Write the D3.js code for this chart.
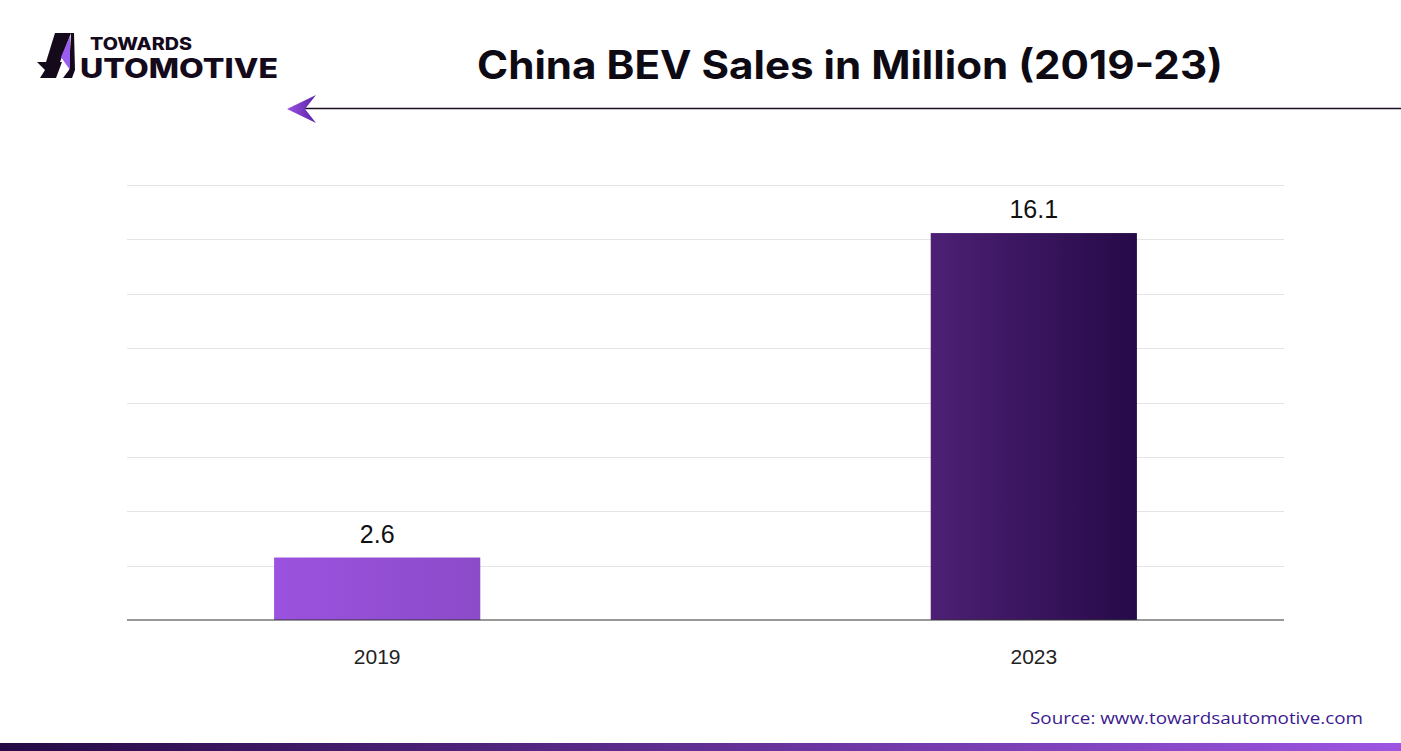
<!DOCTYPE html>
<html><head><meta charset="utf-8">
<script src="https://cdn.jsdelivr.net/npm/d3@7/dist/d3.min.js"></script>
<style>html,body{margin:0;padding:0;background:#fff;overflow:hidden}</style>
</head><body>
<script>
const categories = ["2019", "2023"];
const values = [2.6, 16.1];
const valueLabels = ["2.6", "16.1"];
const gridTicks = [0, 2.25, 4.5, 6.75, 9, 11.25, 13.5, 15.75, 18];
const titleText = "China BEV Sales in Million (2019-23)";
const sourceText = "Source: www.towardsautomotive.com";

const W = 1401, H = 751;
const svg = d3.select("body").append("svg").attr("width", W).attr("height", H);
const defs = svg.append("defs");

function lin(id, stops) {
  const g = defs.append("linearGradient").attr("id", id).attr("x1", "0").attr("x2", "1").attr("y1", "0").attr("y2", "0");
  stops.forEach(([o, c]) => g.append("stop").attr("offset", o).attr("stop-color", c));
}
lin("g2019", [[0, "#9b52df"], [1, "#8c4bc9"]]);
lin("g2023", [[0, "#4d2075"], [1, "#260a48"]]);
lin("gbottom", [[0, "#250a45"], [1, "#9d55e2"]]);
lin("garrow", [[0, "#9a52e0"], [1, "#5a23a8"]]);

const x = d3.scaleBand().domain(categories).range([127, 1284]).paddingInner(0.686).paddingOuter(0.224);
const y = d3.scaleLinear().domain([0, 18.1]).range([620, 185]);
const gy = d3.scaleLinear().domain([0, 18]).range([620, 185]);

// gridlines
svg.append("g").selectAll("line").data(gridTicks.slice(1)).join("line")
  .attr("x1", 127).attr("x2", 1284)
  .attr("y1", d => Math.round(gy(d)) + 0.5).attr("y2", d => Math.round(gy(d)) + 0.5)
  .attr("stroke", "#e4e4e4").attr("stroke-width", 1);

// bars
svg.append("g").selectAll("rect").data(values).join("rect")
  .attr("x", (d, i) => x(categories[i]))
  .attr("width", x.bandwidth())
  .attr("y", d => y(d))
  .attr("height", d => y(0) - y(d))
  .attr("fill", (d, i) => `url(#g${categories[i]})`);

// value labels
svg.append("g").selectAll("text").data(values).join("text")
  .attr("x", (d, i) => x(categories[i]) + x.bandwidth() / 2)
  .attr("y", d => y(d) - 15)
  .attr("text-anchor", "middle")
  .attr("font-family", "'Liberation Sans', Arial, sans-serif")
  .attr("font-size", 25).attr("fill", "#111")
  .text((d, i) => valueLabels[i]);

// x axis
const xAxis = d3.axisBottom(x).tickSize(0).tickPadding(29);
const ax = svg.append("g").attr("transform", "translate(0,620)").call(xAxis);
ax.select(".domain").attr("stroke", "#333").attr("stroke-width", 1.2).attr("d", "M127,0H1284");
ax.selectAll("text").attr("font-family", "'Liberation Sans', Arial, sans-serif")
  .attr("font-size", 21).attr("fill", "#222");

// title
svg.append("text").attr("x", 850).attr("y", 79).attr("text-anchor", "middle")
  .attr("font-family", "Inter, 'Open Sans', sans-serif").attr("font-weight", 700)
  .attr("font-size", 39).attr("fill", "#0d0a14")
  .attr("textLength", 746).attr("lengthAdjust", "spacingAndGlyphs")
  .text(titleText);

// title rule with arrow
svg.append("line").attr("x1", 300).attr("x2", 1401).attr("y1", 108.5).attr("y2", 108.5)
  .attr("stroke", "#1a1025").attr("stroke-width", 1.6);
svg.append("path").attr("d", "M287,109 L316,95 L305,109 L316,123 Z").attr("fill", "url(#garrow)");

// logo
const logo = svg.append("g");
logo.append("path").attr("d", "M55,33 L71,33 L60,62 L46,62 Z").attr("fill", "#140a1c");
logo.append("path").attr("d", "M37,62 L62,62 L56,78 L40,78 L45,70 Z").attr("fill", "#140a1c");
logo.append("path").attr("d", "M71,33 L74,33 L75,70 L72,78 L63,78 L69,70 Z").attr("fill", "#140a1c");
logo.append("path").attr("d", "M70,36 L61,57 L70,70 Z").attr("fill", "#9b5cf0");
logo.append("text").attr("x", 90).attr("y", 50)
  .attr("font-family", "Inter, 'Open Sans', sans-serif").attr("font-weight", 800)
  .attr("font-size", 17).attr("fill", "#140a1c")
  .attr("textLength", 102).attr("lengthAdjust", "spacingAndGlyphs").text("TOWARDS");
logo.append("text").attr("x", 80).attr("y", 78)
  .attr("font-family", "Inter, 'Open Sans', sans-serif").attr("font-weight", 800)
  .attr("font-size", 27).attr("fill", "#140a1c")
  .attr("textLength", 198).attr("lengthAdjust", "spacingAndGlyphs").text("UTOMOTIVE");

// source
svg.append("text").attr("x", 1363).attr("y", 724).attr("text-anchor", "end")
  .attr("font-family", "'Open Sans', 'Noto Sans', sans-serif").attr("font-weight", 500)
  .attr("font-size", 16).attr("fill", "#3b1a8f")
  .attr("textLength", 333).attr("lengthAdjust", "spacingAndGlyphs")
  .text(sourceText);

// bottom bar
svg.append("rect").attr("x", 0).attr("y", 743).attr("width", W).attr("height", 8).attr("fill", "url(#gbottom)");
</script>
</body></html>
